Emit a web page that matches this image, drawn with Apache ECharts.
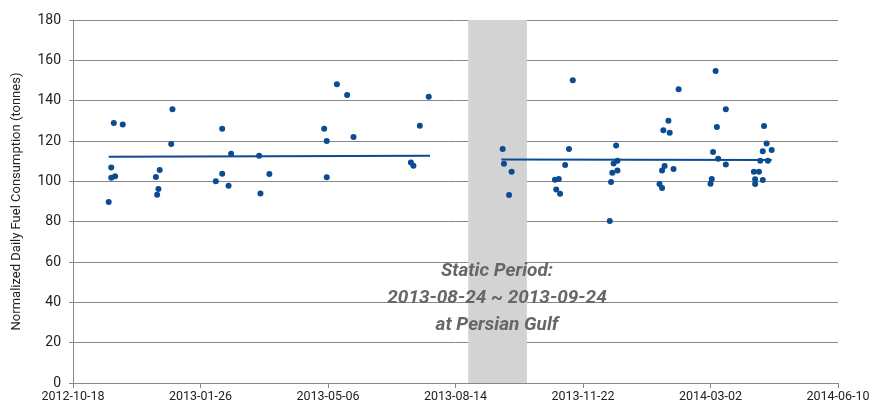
<!DOCTYPE html>
<html>
<head>
  <meta charset="UTF-8">
  <title>Normalized Daily Fuel Consumption</title>
  <script src="https://cdn.jsdelivr.net/npm/echarts@6/dist/echarts.min.js"></script>
</head>
<body style="margin: 0; background: #fff;">
  <div id="main" style="width: 871px; height: 408px;"></div>
  <script>
  // 数据
  const startDate = '2012-10-18';
  const pointDates = [
    '2012-11-15', '2012-11-17', '2012-11-17', '2012-11-19', '2012-11-20', '2012-11-26',
    '2012-12-22', '2012-12-23', '2012-12-24', '2012-12-25', '2013-01-03', '2013-01-04',
    '2013-02-07', '2013-02-12', '2013-02-12', '2013-02-17', '2013-02-19', '2013-03-13',
    '2013-03-14', '2013-03-21', '2013-05-03', '2013-05-05', '2013-05-05', '2013-05-13',
    '2013-05-21', '2013-05-26', '2013-07-10', '2013-07-12', '2013-07-17', '2013-07-24',
    '2013-09-20', '2013-09-21', '2013-09-25', '2013-09-27', '2013-10-31', '2013-11-01',
    '2013-11-03', '2013-11-04', '2013-11-08', '2013-11-11', '2013-11-14', '2013-12-13',
    '2013-12-14', '2013-12-15', '2013-12-16', '2013-12-18', '2013-12-19', '2013-12-19',
    '2014-01-21', '2014-01-23', '2014-01-23', '2014-01-24', '2014-01-25', '2014-01-28',
    '2014-01-29', '2014-02-01', '2014-02-05', '2014-03-02', '2014-03-03', '2014-03-04',
    '2014-03-06', '2014-03-07', '2014-03-08', '2014-03-14', '2014-03-14', '2014-04-05',
    '2014-04-06', '2014-04-06', '2014-04-09', '2014-04-10', '2014-04-12', '2014-04-12',
    '2014-04-13', '2014-04-15', '2014-04-16', '2014-04-19'
  ];
  const pointValues = [
    89.7, 106.9, 101.8, 128.9, 102.5, 128.2,
    102.1, 93.4, 96.2, 105.6, 118.5, 135.7,
    100.1, 126.1, 103.8, 97.8, 113.7, 112.7,
    94.0, 103.6, 126.1, 120.0, 102.0, 148.2,
    142.8, 122.0, 109.4, 107.7, 127.6, 141.9,
    116.0, 108.7, 93.2, 104.8, 100.8, 96.0,
    101.1, 93.9, 108.1, 116.0, 150.1, 80.3,
    99.7, 104.3, 108.9, 117.8, 110.2, 105.4,
    98.7, 96.7, 105.4, 125.3, 107.6, 130.1,
    124.1, 106.1, 145.6, 98.8, 101.1, 114.5,
    154.7, 126.9, 111.2, 108.4, 135.7, 104.8,
    101.0, 98.7, 104.8, 110.2, 114.9, 100.6,
    127.4, 118.8, 110.2, 115.5
  ];
  const trend1Dates = ['2012-11-15', '2013-07-25'];
  const trend1Values = [112.2, 112.7];
  const trend2Dates = ['2013-09-19', '2014-04-19'];
  const trend2Values = [110.8, 110.6];
  const staticPeriod = ['2013-08-24', '2013-10-09'];
  const staticText = 'Static Period:\n2013-08-24 ~ 2013-09-24\nat Persian Gulf';

  const DAY = 86400000;
  const t0 = Date.parse(startDate);
  const toDay = d => (Date.parse(d) - t0) / DAY;
  const fmtDay = v => new Date(t0 + v * DAY).toISOString().slice(0, 10);

  const font = "Roboto, sans-serif";
  const blue = '#0b4b91';

  const chart = echarts.init(document.getElementById('main'));

  chart.setOption({
    animation: false,
    textStyle: { fontFamily: font },
    grid: { left: 73, right: 33, top: 20, bottom: 25, outerBoundsMode: 'none' },
    xAxis: {
      type: 'value',
      min: 0,
      max: 600,
      interval: 100,
      axisLine: { lineStyle: { color: '#888' } },
      axisTick: { show: true, length: 5, lineStyle: { color: '#888' } },
      axisLabel: { formatter: fmtDay, color: '#222', fontSize: 12.5, fontFamily: font, margin: 7 },
      splitLine: { show: false }
    },
    yAxis: {
      type: 'value',
      min: 0,
      max: 180,
      interval: 20,
      name: 'Normalized Daily Fuel Consumption (tonnes)',
      nameLocation: 'middle',
      nameGap: 50,
      nameTextStyle: { color: '#222', fontSize: 13, fontFamily: font },
      axisLine: { show: true, lineStyle: { color: '#888' } },
      axisTick: { show: true, length: 4, lineStyle: { color: '#888' } },
      axisLabel: { color: '#222', fontSize: 14, fontFamily: font, margin: 12 },
      splitLine: { lineStyle: { color: '#888', width: 1 } }
    },
    series: [
      {
        type: 'scatter',
        symbolSize: 6,
        itemStyle: { color: blue, opacity: 1 },
        data: pointDates.map((d, i) => [toDay(d), pointValues[i]]),
        markArea: {
          silent: true,
          itemStyle: { color: '#d3d3d3', opacity: 1 },
          data: [[{ xAxis: toDay(staticPeriod[0]) }, { xAxis: toDay(staticPeriod[1]) }]]
        },
        z: 3
      },
      {
        type: 'line',
        showSymbol: false,
        lineStyle: { color: blue, width: 2 },
        data: trend1Dates.map((d, i) => [toDay(d), trend1Values[i]]),
        z: 2
      },
      {
        type: 'line',
        showSymbol: false,
        lineStyle: { color: blue, width: 2 },
        data: trend2Dates.map((d, i) => [toDay(d), trend2Values[i]]),
        z: 2
      }
    ],
    graphic: [{
      type: 'text',
      x: 497,
      y: 258,
      z: 10,
      style: {
        text: staticText,
        align: 'center',
        verticalAlign: 'top',
        fill: '#666',
        font: "italic bold 19px Roboto, sans-serif",
        lineHeight: 27
      }
    }]
  });
  </script>
</body>
</html>
